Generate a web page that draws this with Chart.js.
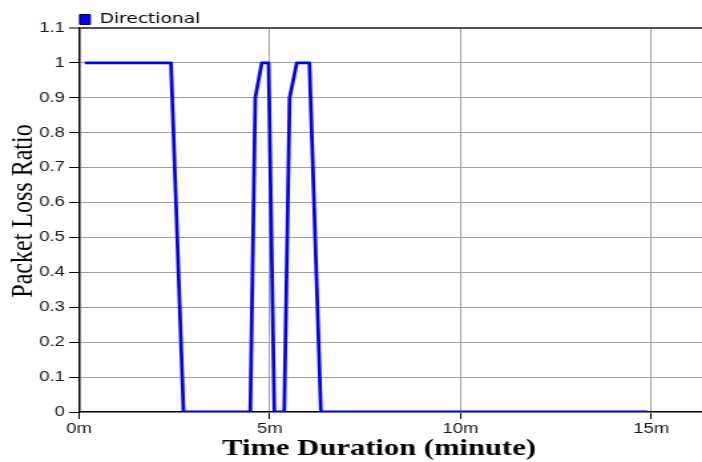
<!DOCTYPE html>
<html>
<head>
<meta charset="utf-8">
<script src="https://cdn.jsdelivr.net/npm/chart.js@4"></script>
<style>
  html, body { margin: 0; padding: 0; background: #ffffff; }
  #c { display: block; }
</style>
</head>
<body>
<canvas id="c" width="528" height="462" style="width:702px;height:462px"></canvas>
<script>
// ---- data ----
const seriesName = "Directional";
const timeMinutes = [0.15, 2.41, 2.74, 4.49, 4.62, 4.79, 4.97, 5.12, 5.38, 5.52, 5.71, 6.04, 6.34, 14.9];
const lossRatio   = [1,    1,    0,    0,    0.9,  1,    1,    0,    0,    0.9,  1,    1,    0,    0];
const xTickValues = [0, 5, 10, 15];
const xTitle = "Time Duration (minute)";
const yTitle = "Packet Loss Ratio";

const points = timeMinutes.map((t, i) => ({ x: t, y: lossRatio[i] }));

const legendShift = {
  id: 'legendShift',
  beforeLayout(chart) {
    const lg = chart.legend;
    if (lg && !lg._fitPatched) {
      const origFit = lg.fit;
      lg.fit = function () { origFit.call(this); this.height = 20; };
      lg._fitPatched = true;
    }
  },
  afterLayout(chart) {
    if (chart.legend) {
      const w = chart.legend.width;
      chart.legend.left = chart.chartArea.left - 4;
      chart.legend.right = chart.legend.left + w;
    }
  }
};

new Chart(document.getElementById('c'), {
  type: 'line',
  data: {
    datasets: [{
      label: seriesName,
      data: points,
      borderColor: '#0000ff',
      backgroundColor: '#0000ff',
      borderWidth: 2.8,
      borderJoinStyle: 'round',
      pointRadius: 0,
      tension: 0,
      fill: false
    }]
  },
  options: {
    responsive: false,
    devicePixelRatio: 1,
    animation: false,
    layout: { padding: { top: 8, left: 0, right: 0, bottom: 0 } },
    plugins: {
      tooltip: { enabled: false },
      legend: {
        display: true,
        position: 'top',
        align: 'start',
        labels: {
          boxWidth: 8,
          boxHeight: 10,
          padding: 4.5,
          color: '#000000',
          font: { family: 'DejaVu Sans', size: 14 },
          generateLabels(chart) {
            const items = Chart.defaults.plugins.legend.labels.generateLabels(chart);
            return items.map(it => Object.assign(it, { fillStyle: '#0000ff', strokeStyle: '#000040', lineWidth: 1 }));
          }
        }
      }
    },
    scales: {
      x: {
        type: 'linear',
        min: 0,
        max: 16.33,
        afterBuildTicks(scale) {
          scale.ticks = xTickValues.map(v => ({ value: v }));
        },
        afterFit(scale) {
          scale.height = 50;
          scale.paddingLeft = 0;
          scale.paddingRight = 0;
        },
        border: { display: true, color: '#000000', width: 1.2 },
        grid: {
          color: '#a0a0a0',
          lineWidth: 1,
          drawTicks: true,
          tickLength: 7,
          tickColor: '#000000',
          tickWidth: 1
        },
        ticks: {
          autoSkip: false,
          maxRotation: 0,
          padding: 2,
          color: '#1a1a1a',
          font: { family: 'Liberation Sans', size: 14 },
          callback: (v) => v + 'm'
        },
        title: {
          display: true,
          text: xTitle + '\u00a0\u00a0\u00a0',
          color: '#000000',
          font: { family: 'Liberation Serif', size: 23, weight: 'bold', lineHeight: 1.2 },
          padding: { top: 0, bottom: -1 }
        }
      },
      y: {
        min: 0,
        max: 1.1,
        afterFit(scale) {
          scale.width = 59.4;
        },
        border: { display: true, color: '#000000', width: 1.5 },
        grid: {
          color: (ctx) => (ctx.tick && Math.abs(ctx.tick.value - 1.1) < 1e-6) ? '#555555' : '#a0a0a0',
          lineWidth: (ctx) => (ctx.tick && Math.abs(ctx.tick.value - 1.1) < 1e-6) ? 2 : 1,
          drawTicks: true,
          tickLength: 7.5,
          tickColor: '#000000',
          tickWidth: 1
        },
        ticks: {
          stepSize: 0.1,
          padding: 3,
          color: '#1a1a1a',
          font: { family: 'Liberation Sans', size: 14 },
          callback: (v) => String(Number(v.toFixed(1)))
        },
        title: {
          display: true,
          text: '\u00a0\u00a0\u00a0' + yTitle,
          color: '#000000',
          font: { family: 'Liberation Serif', size: 24, lineHeight: 1.2 },
          padding: { top: 3, bottom: 0 }
        }
      }
    }
  },
  plugins: [legendShift]
});
</script>
</body>
</html>
